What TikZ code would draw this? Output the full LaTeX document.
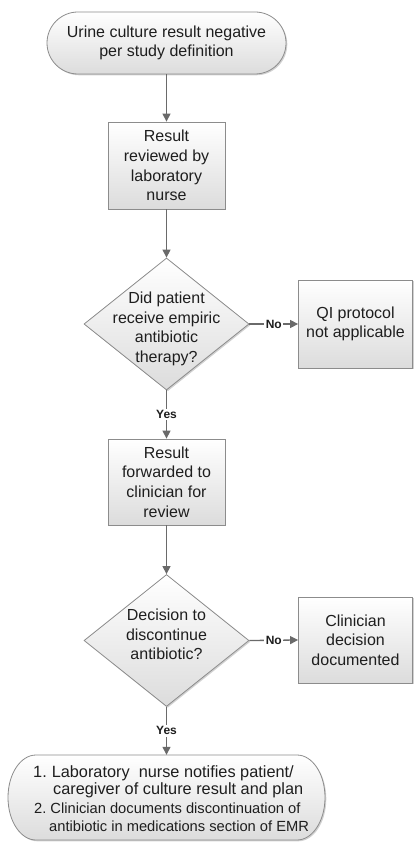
\documentclass[tikz,border=0pt]{standalone}
\usepackage{fontspec}
\setmainfont{Liberation Sans}
\usetikzlibrary{arrows.meta,shapes.geometric,shadows}
\definecolor{edgec}{HTML}{6A6A6A}
\definecolor{outl}{HTML}{8C8C8C}
\definecolor{txtc}{HTML}{1E1E1E}
\definecolor{shadebot}{HTML}{DCDCDC}
\begin{document}
\begin{tikzpicture}[x=1pt,y=-1pt,
  fillbox/.style={draw=outl, line width=0.8pt, top color=white, bottom color=shadebot,
    drop shadow={shadow xshift=1.3pt, shadow yshift=-1.3pt, fill=black!40, opacity=0.45}},
  maintext/.style={text=txtc, align=center, font=\fontsize{16}{19.7}\selectfont},
  procbox/.style={fillbox, maintext, rectangle, inner sep=0pt, minimum width=#1},
  termbox/.style={fillbox, maintext, rectangle, rounded corners=31pt, inner sep=0pt},
  decbox/.style={fillbox, diamond, inner sep=0pt, minimum width=165pt, minimum height=132pt},
  arr/.style={draw=edgec, line width=1.3pt, -{Triangle[length=8pt,width=8pt]}},
  lbl/.style={fill=white, inner sep=1.5pt, text=txtc, font=\bfseries\fontsize{12}{12}\selectfont}
]
\useasboundingbox (0,0) rectangle (413,842);

% start terminator
\node[termbox, minimum width=239pt, minimum height=62pt] (start) at (166.5,43)
  {Urine culture result negative\\per study definition};

% process boxes
\node[procbox=117pt, minimum height=87pt] (rev) at (166.5,165.5)
  {Result\\reviewed by\\laboratory\\nurse};

\node[decbox, label={[maintext, yshift=-5pt]center:Did patient\\receive empiric\\antibiotic\\therapy?}] (d1) at (166.5,324) {};

\node[procbox=114pt, minimum height=88pt] (qi) at (355.5,324)
  {QI protocol\\not applicable};

\node[procbox=117pt, minimum height=86pt] (fwd) at (166.5,482)
  {Result\\forwarded to\\clinician for\\review};

\node[decbox, label={[maintext, yshift=6pt]center:Decision to\\discontinue\\antibiotic?}] (d2) at (166.5,640.5) {};

\node[procbox=114pt, minimum height=86pt] (clin) at (355.5,640)
  {Clinician\\decision\\documented};

% end terminator (elliptic caps)
\path[fillbox] (36,755) -- (297,755)
  .. controls (312.5,755) and (325,774) .. (325,797.5)
  .. controls (325,821) and (312.5,840) .. (297,840)
  -- (36,840)
  .. controls (20.5,840) and (8,821) .. (8,797.5)
  .. controls (8,774) and (20.5,755) .. (36,755) -- cycle;
\node[rectangle, inner sep=0pt, minimum width=317pt, minimum height=85pt] (fin) at (166.5,797.5) {};
\node[text=txtc, anchor=west, inner sep=0pt] (fintxt) at (33,798.5) {\vbox{%
  \baselineskip=17.5pt\lineskiplimit=-20pt
  \hbox{\fontsize{16.3}{17.5}\selectfont 1.\hskip 5pt Laboratory\ \ nurse notifies patient/}%
  \hbox{\fontsize{16.3}{17.5}\selectfont \hskip 20pt caregiver of culture result and plan}%
  \baselineskip=19pt
  \hbox{\fontsize{14.7}{17.5}\selectfont \hskip 1pt 2.\hskip 4pt Clinician documents discontinuation of}%
  \baselineskip=17.5pt
  \hbox{\fontsize{14.7}{17.5}\selectfont \hskip 16pt antibiotic in medications section of EMR}}};

% connectors
\draw[arr] (start.south) -- (rev.north);
\draw[arr] (rev.south) -- (d1.north);
\draw[arr] (d1.east) -- node[lbl] {No} (qi.west);
\draw[arr] (d1.south) -- node[lbl] {Yes} (fwd.north);
\draw[arr] (fwd.south) -- (d2.north);
\draw[arr] (d2.east) -- node[lbl] {No} (clin.west);
\draw[arr] (d2.south) -- node[lbl] {Yes} (fin.north);
\end{tikzpicture}
\end{document}
